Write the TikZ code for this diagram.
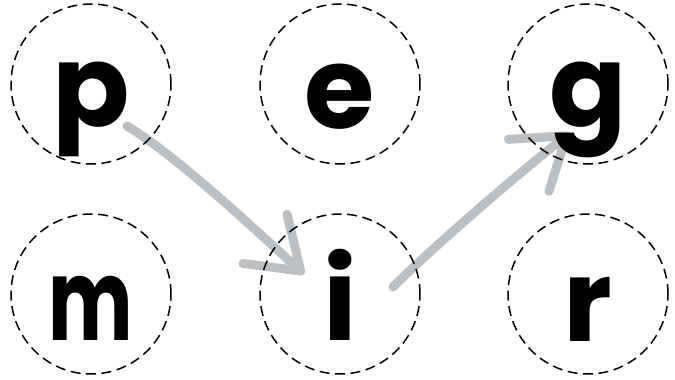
\documentclass[tikz,border=0pt]{standalone}
\usepackage{fontspec}
\newfontfamily\letterfont{Poppins}
\usetikzlibrary{arrows.meta,calc,backgrounds}
\definecolor{arrowgrey}{RGB}{189,192,194}
\tikzset{
  ring/.style={circle,draw=black,dash pattern=on 10pt off 5.5pt,line width=1.5pt,minimum size=160pt,inner sep=0pt},
  letter/.style={anchor=base,inner sep=0pt,font=\letterfont\bfseries\fontsize{114}{114}\selectfont},
  arrowline/.style={draw=arrowgrey,line width=9pt,line cap=round,
    -{Straight Barb[length=48pt,width=66pt,round]}},
}
\begin{document}
\begin{tikzpicture}[x=1pt,y=-1pt]
\useasboundingbox (0,0) rectangle (675,380);
\node[ring] (p) at (91,84) {};
\node[ring] (e) at (340,84) {};
\node[ring] (g) at (588,84) {};
\node[ring] (m) at (91,294) {};
\node[ring] (i) at (340,294) {};
\node[ring] (r) at (588,294) {};
\node[letter] (lp) at ($(p)+(0,42)$) {p};
\node[letter] (le) at ($(e)+(0,44)$) {e};
\node[letter] (lg) at ($(g)+(0,42)$) {g};
\node[letter] (lm) at ($(m)+(0,46)$) {\scalebox{0.7}[1]{m}};
\node[letter] (li) at ($(i)+(0,46)$) {i};
\node[letter] (lr) at ($(r)+(0,47)$) {r};
\coordinate (s1) at ($(p)+(36,42)$);
\coordinate (e1) at ($(i)+(-36,-20)$);
\coordinate (s2) at ($(i)+(53,-7)$);
\coordinate (e2) at ($(g)+(-18,49)$);
\begin{scope}[on background layer]
\draw[arrowline] (s1) .. controls +(31:60) and +(222:60) .. (e1);
\draw[arrowline] (s2) .. controls +(-45:60) and +(142:60) .. (e2);
\end{scope}
\end{tikzpicture}
\end{document}
